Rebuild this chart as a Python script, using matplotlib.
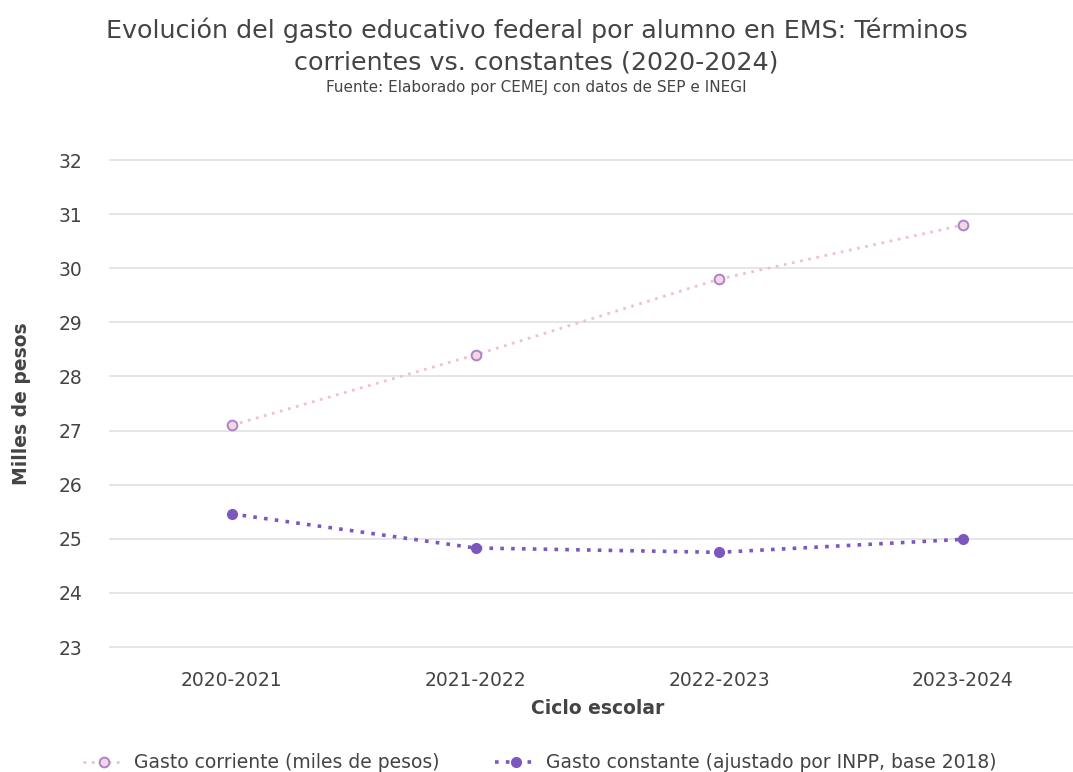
import matplotlib.pyplot as plt

plt.rcParams['font.family'] = ['DejaVu Sans']

ciclos = ['2020-2021', '2021-2022', '2022-2023', '2023-2024']
gasto_corriente = [27.1, 28.4, 29.8, 30.8]
gasto_constante = [25.46, 24.83, 24.75, 24.99]
y_ticks = [23, 24, 25, 26, 27, 28, 29, 30, 31, 32]

txt = '#444444'

fig = plt.figure(figsize=(10.73, 7.72), dpi=100)
ax = fig.add_axes([0.1025, 0.1619, 0.9085, 0.6308])

x = list(range(len(ciclos)))
ax.plot(x, gasto_corriente, linestyle=(0, (1, 2)), color='#f2bfd0', linewidth=2.0,
        marker='o', markersize=7, markerfacecolor='#f6d6e2', markeredgecolor='#a784cc',
        markeredgewidth=1.4, label='Gasto corriente (miles de pesos)', clip_on=False, zorder=3)
ax.plot(x, gasto_constante, linestyle=(0, (1, 2)), color='#7d56c0', linewidth=2.6,
        marker='o', markersize=7, markerfacecolor='#7d56c0', markeredgecolor='#7d56c0',
        label='Gasto constante (ajustado por INPP, base 2018)', clip_on=False, zorder=3)

ax.set_xlim(-0.5, 3.5)
ax.set_ylim(23, 32)
ax.set_yticks(y_ticks)
ax.set_xticks(x)
ax.set_xticklabels(ciclos)
ax.grid(axis='y', color='#e3e3e3', linewidth=1.3)
for gl in ax.get_ygridlines():
    gl.set_clip_on(False)
ax.set_axisbelow(True)
for s in ax.spines.values():
    s.set_visible(False)
ax.tick_params(axis='both', length=0, labelsize=13.5, labelcolor=txt)
ax.tick_params(axis='y', pad=20)
ax.tick_params(axis='x', pad=17)

ax.set_xlabel('Ciclo escolar', fontsize=13.5, color=txt, fontweight='semibold', labelpad=7)
ax.set_ylabel('Milles de pesos', fontsize=13.5, color=txt, fontweight='semibold', labelpad=20)

fig.text(0.5, 0.961, 'Evolución del gasto educativo federal por alumno en EMS: Términos',
         ha='center', va='center', fontsize=18.3, color=txt)
fig.text(0.5, 0.919, 'corrientes vs. constantes (2020-2024)',
         ha='center', va='center', fontsize=18.3, color=txt)
fig.text(0.5, 0.887, 'Fuente: Elaborado por CEMEJ con datos de SEP e INEGI',
         ha='center', va='center', fontsize=11, color=txt)

fig.legend(loc='center', bbox_to_anchor=(0.503, 0.012), ncol=2, frameon=False,
           fontsize=13.5, labelcolor=txt, columnspacing=3, handlelength=2.2,
           handletextpad=0.5)

fig.savefig('out.png', dpi=100)
